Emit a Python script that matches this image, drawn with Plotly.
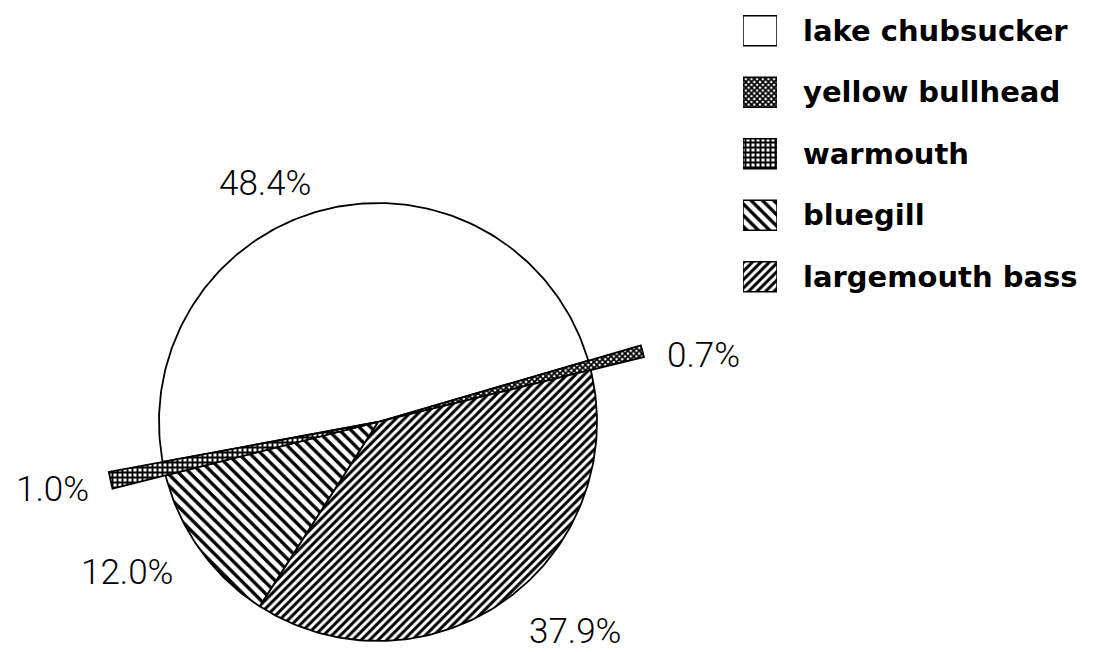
import math
import plotly.graph_objects as go

# Slices in drawing order, clockwise from the lake chubsucker slice
species = ["lake chubsucker", "yellow bullhead", "largemouth bass", "bluegill", "warmouth"]
shares = [48.4, 0.7, 37.9, 12.0, 1.0]

# Key order shown at the top right
key_order = ["lake chubsucker", "yellow bullhead", "warmouth", "bluegill", "largemouth bass"]

# Black-and-white fill for each species
fills = {
    "lake chubsucker": dict(shape="", size=8, solidity=0.3, fg="black", bg="white"),
    "yellow bullhead": dict(shape="x", size=4, solidity=0.7, fg="black", bg="white"),
    "warmouth": dict(shape="+", size=5, solidity=0.62, fg="black", bg="white"),
    "bluegill": dict(shape="\\", size=8, solidity=0.42, fg="black", bg="white"),
    "largemouth bass": dict(shape="/", size=6, solidity=0.5, fg="black", bg="white"),
}

START_DEG = 259.5          # first slice starts here, clockwise from 12 o'clock
EXPLODE = 1.25             # the two small slices are drawn longer than the circle

W, H = 1115, 652
CX, CY, RAD = 378, 422, 219   # pie centre and radius on the page, px


def wedge(a0, a1, r):
    """Outline of a pie slice between two clockwise angles (deg from north)."""
    n = max(2, int(abs(a1 - a0)) + 1)
    xs, ys = [0.0], [0.0]
    for i in range(n + 1):
        a = math.radians(a0 + (a1 - a0) * i / n)
        xs.append(r * math.sin(a))
        ys.append(r * math.cos(a))
    xs.append(0.0)
    ys.append(0.0)
    return xs, ys


fig = go.Figure()

total = sum(shares)
angle = START_DEG
for name, v in zip(species, shares):
    span = v * 360.0 / total
    r = EXPLODE if v < 2 else 1.0
    xs, ys = wedge(angle, angle + span, r)
    angle += span
    f = fills[name]
    fig.add_trace(go.Scatter(
        x=xs, y=ys, mode="lines", fill="toself",
        fillcolor="white",
        fillpattern=dict(shape=f["shape"], size=f["size"], solidity=f["solidity"],
                         fgcolor=f["fg"], bgcolor=f["bg"], fillmode="replace"),
        line=dict(color="black", width=1.8),
        name=name, hoveron="fills", hoverinfo="name",
        showlegend=False, xaxis="x2", yaxis="y2",
    ))

# Key swatches, species names as tick labels
swatch_len = [1, 1, 1, 1, 1]
fig.add_trace(go.Bar(
    x=swatch_len,
    y=key_order,
    orientation="h",
    marker=dict(
        color="white", line=dict(color="black", width=1.5),
        pattern=dict(
            shape=[fills[n]["shape"] for n in key_order],
            size=[fills[n]["size"] for n in key_order],
            solidity=[fills[n]["solidity"] for n in key_order],
            fgcolor=[fills[n]["fg"] for n in key_order],
            bgcolor=[fills[n]["bg"] for n in key_order],
            fillmode="replace",
        ),
    ),
    hoverinfo="skip",
    showlegend=False,
    xaxis="x", yaxis="y",
))

# Percentage labels around the pie (centre positions in px)
label_pos = {
    "lake chubsucker": (265, 184),
    "yellow bullhead": (703, 355),
    "largemouth bass": (575, 631),
    "bluegill": (127, 572),
    "warmouth": (52, 489),
}
annotations = []
for n, v in zip(species, shares):
    px, py = label_pos[n]
    annotations.append(dict(
        x=px / W, y=1 - py / H, xref="paper", yref="paper",
        text=f"{v:.1f}%", showarrow=False,
        xanchor="center", yanchor="middle",
        font=dict(family="Roboto", size=35, color="black", weight=300),
    ))

fig.update_layout(
    width=W, height=H,
    margin=dict(l=0, r=0, t=0, b=0),
    paper_bgcolor="white",
    plot_bgcolor="rgba(0,0,0,0)",
    showlegend=False,
    bargap=0.51,
    # pie axes: one unit = pie radius, equal scale both ways
    xaxis2=dict(domain=[0, 1], range=[-CX / RAD, (W - CX) / RAD],
                visible=False, fixedrange=True, anchor="y2"),
    yaxis2=dict(domain=[0, 1], range=[-(H - CY) / RAD, CY / RAD],
                visible=False, fixedrange=True, anchor="x2"),
    # key axes
    xaxis=dict(domain=[743 / W, 777 / W], range=[0, 1], visible=False, fixedrange=True),
    yaxis=dict(
        domain=[1 - 307.5 / H, 1.0],
        type="category",
        categoryorder="array", categoryarray=key_order,
        range=[4.5, -0.5],
        side="right",
        showgrid=False, zeroline=False, showline=False, ticks="",
        ticklabelstandoff=25,
        tickfont=dict(family="DejaVu Sans", size=29, color="black", weight="bold"),
        fixedrange=True,
    ),
    annotations=annotations,
)

fig.write_html("out.html")
